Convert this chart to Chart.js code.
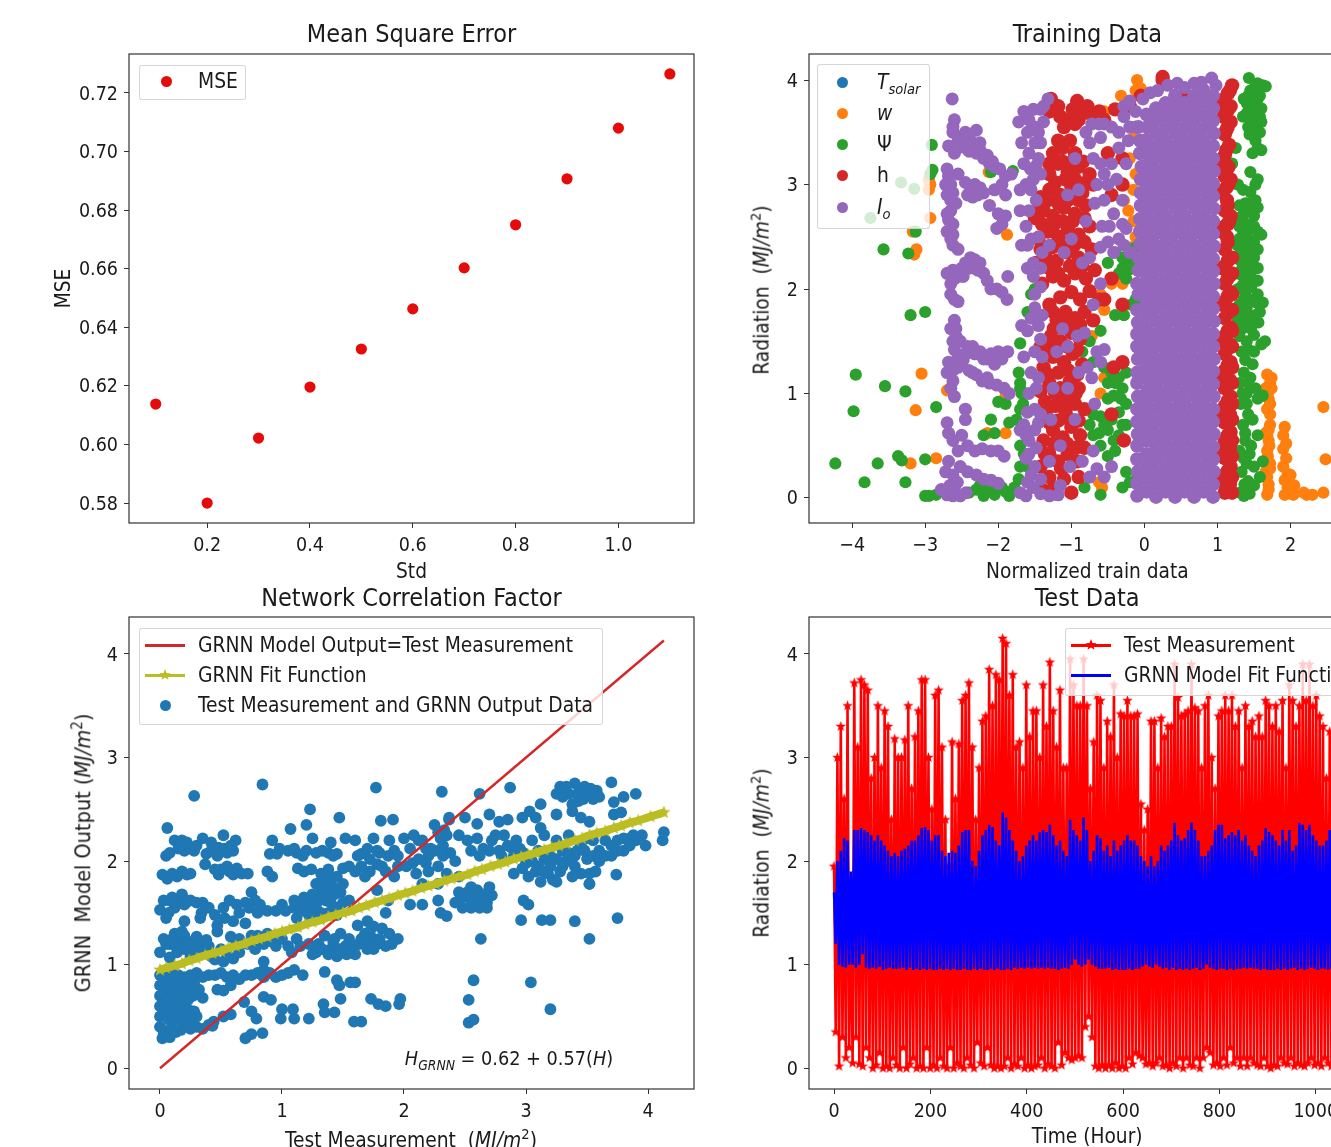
<!DOCTYPE html>
<html>
<head>
<meta charset="utf-8">
<title>GRNN charts</title>
<script src="https://cdn.jsdelivr.net/npm/chart.js@4/dist/chart.umd.min.js"></script>
<style>
html,body{margin:0;padding:0;background:#fff;overflow:hidden;width:1331px;height:1147px}
body{filter:blur(.55px)}
canvas{position:absolute}
.txt{position:absolute;white-space:nowrap;color:#1a1a1a;font-family:'DejaVu Sans Condensed','DejaVu Sans',sans-serif;font-size:20.8px;line-height:1}
.txt sub{font-size:.7em;line-height:0}
.txt sup{font-size:.7em;line-height:0}
.legend{position:absolute;box-sizing:border-box;background:rgba(255,255,255,.8);border:1px solid rgba(204,204,204,.8);border-radius:3px}
.dot{position:absolute;width:11px;height:11px;border-radius:50%}
.bar{position:absolute;height:2.5px}
</style>
</head>
<body>
<canvas id="mse" width="648" height="585" style="left:52px;top:0"></canvas>
<canvas id="train" width="633" height="585" style="left:740px;top:0"></canvas>
<canvas id="corr" width="648" height="567" style="left:60px;top:580px"></canvas>
<canvas id="test" width="633" height="570" style="left:740px;top:580px"></canvas>
<script>
// panel 1
const stdValues = [0.1,0.2,0.3,0.4,0.5,0.6,0.7,0.8,0.9,1.0,1.1];
const mseValues = [0.6138,0.58,0.6022,0.6196,0.6326,0.6463,0.6603,0.675,0.6907,0.708,0.7265];
const stdTicks = [0.2,0.4,0.6,0.8,1.0];
const mseTicks = [0.58,0.60,0.62,0.64,0.66,0.68,0.70,0.72];

// panel 2, flat x,y lists
const solarPts = [.2,.5,.4,1.2,.6,2.1,.3,3,.7,3.4,.5,1.7];
const windPts = [-3.2,.33,-2.85,.38,-3.13,.84,-3.05,1.19,-2.7,1.03,-1.9,.98,-2.15,.62,-1.9,.62,-3.15,2.33,-3.12,2.38,-3.17,2.55,-2.95,2.95,-2.93,3,-2.95,3.05,-2.93,2.68,-2.13,3.12,-1.88,2.52,
1.68,.03,1.7,.13,1.66,.25,1.72,.33,1.68,.45,1.7,.55,1.66,.62,1.72,.7,1.68,.85,1.7,.95,1.66,1.05,1.72,1.1,1.68,1.18,1.74,1.15,1.72,.8,1.65,1.0,1.7,.08,1.68,.2,1.72,.28,1.69,.4,1.71,.5,1.68,.6,1.7,.65,1.72,.9,1.7,1.02,1.74,1.05,
1.92,.03,1.96,.1,1.92,.17,1.96,.23,1.9,.3,1.94,.38,1.9,.47,1.94,.52,1.9,.6,1.92,.68,2,.04,2.05,.12,1.98,.15,2,.22,1.96,.05,2.04,.03,2.18,.05,2.22,.03,2.3,.03,2.45,.05,2.45,.87,2.48,.37,
-.1,4,-.12,3.9,-.05,3.92,-.32,3.85,-.55,3.7,-.38,3.72,-.15,3.45,-.2,3.25,-.12,3.1,-.15,2.95,-.28,2.85,-.22,2.75,-.15,2.65,-.12,2.5,-.18,2.4,-.45,2.05,-.6,1.95,-.55,1.8,-.3,2.05,-.62,.15,-.58,.1,-.1,.85,-.6,1,-.55,1.15,-.72,1.55];
const psiPts = [-4.23,.33,-3.95,1.18,-3.55,1.07,-3.98,.83,-3.65,.33,-3.83,.15,-3.37,.4,-3.32,.36,-3.27,1.02,-3.27,.15,-3,.37,-2.85,.87,-2.91,3.38,-2.9,3.14,-2.93,3.1,-3.33,3.02,-3.15,2.96,-3.75,2.68,-3.57,2.38,-3.23,2.34,-3.13,2.55,-3.2,1.75,-3,1.78,-3,.02,-2.95,.02,-2.85,.03,-2.1,3.12,-1.8,3.13,-1.9,.9,-2,.92,-2.1,.75,-1.85,.72,-2.2,.6,-2.05,.62,-1.7,.85,-1.75,.75,
-2.4,.05,-2.3,.08,-2.2,.02,-2.12,.09,-2.05,.03,-1.95,.1,-1.85,.02,-1.78,.1,-2.15,.13,-2.25,.12,-2.08,.14,-1.9,.06,-1.7,.3,-1.72,.18,-1.65,.42,-1.7,.5,-1.6,.3,-1.72,1.2,-1.7,1.1,-1.68,1,-1.66,.9,-1.7,1.05,-1.55,1.95,-1.6,1.78,-1.5,2,-1.7,1.48,
-.82,.1,-.6,.03,-.3,.1,-.2,.15,-.1,.2,-.25,.25,-.4,.45,-.6,.5,-.5,.65,-.35,.6,-.25,.7,-.45,.75,-.7,.6,-.6,.78,-.35,.82,-.25,.9,-.5,.95,-.4,1.1,-.3,1.05,-.45,1.2,-.55,1.25,-.25,1.2,-.7,1.3,-.85,1.4,-.75,1.5,-.6,1.6,-.4,1.75,-.3,1.85,-.28,1.75,-.12,1.9,-.18,1.85,-.5,2.25,-.4,2.35,-.3,2.2,-.25,2.1,-.35,2.15,-.2,2.25,-.12,2.4,-.08,2.3,-.5,.4,-.42,.55,-.55,.7,-.3,.7,-.32,.95,-.42,.98,-.5,1.1,-.35,1.15,-.27,2.28,-.22,2.18,-.3,2.3,-.7,.8,-.75,.7,-.62,.62,
1.31,.05,1.37,.13,1.44,.04,1.5,.12,1.33,.25,1.4,.33,1.5,.3,1.58,.2,1.62,.35,1.3,.45,1.38,.55,1.46,.5,1.55,.6,1.35,.7,1.42,.8,1.48,.75,1.32,.9,1.4,1,1.55,.95,1.62,.98,1.3,1.1,1.36,1.2,1.45,1.15,1.52,1.05,1.38,1.32,1.48,1.28,1.42,1.42,1.3,1.55,1.65,1.5,1.6,1.47,1.28,1.7,1.37,1.67,1.46,1.62,1.52,1.75,1.3,1.85,1.4,1.82,1.5,1.88,1.58,1.78,1.62,1.87,1.28,2,1.38,1.97,1.46,2.02,1.55,1.95,1.27,2.15,1.35,2.12,1.45,2.15,1.55,2.08,1.3,2.28,1.4,2.27,1.5,2.3,1.27,2.42,1.37,2.4,1.48,2.43,1.35,2.55,1.45,2.58,1.6,2.52,1.28,2.68,1.36,2.72,1.3,2.8,1.42,2.82,1.5,2.7,1.35,2.95,1.45,2.93,1.52,2.85,1.52,3,1.15,3.05,1.28,3,1.2,3.2,1.25,3.35,1.45,3.12,1.55,3.05,1.48,3.3,1.55,3.35,1.6,3.33,1.52,3.42,1.42,3.55,1.48,3.62,1.58,3.65,1.35,3.65,1.43,3.72,1.52,3.75,1.6,3.73,1.36,3.82,1.47,3.85,1.55,3.82,1.43,4.02,1.55,3.97,1.62,3.95,1.66,3.94,
1.36,.02,1.42,.16,1.36,.38,1.44,.42,1.38,.62,1.4,.9,1.34,1,1.42,1.1,1.34,1.62,1.42,1.72,1.34,1.76,1.44,1.9,1.34,2.03,1.4,2.06,1.34,2.2,1.44,2.35,1.32,2.36,1.42,2.48,1.3,2.48,1.4,2.62,1.5,2.45,1.5,2.6,1.45,3.62,1.5,3.7,1.4,3.68,1.58,3.5,1.52,3.95,1.45,3.9,1.58,3.85,
1.33,1.4,1.5,1.4,1.4,1.5,1.5,1.56,1.56,1.68,1.46,1.72,1.56,1.86,1.36,1.9,1.52,2.08,1.44,2.22,1.55,2.2,1.36,2.32,1.55,2.38,1.3,2.6,1.55,2.55,1.46,2.78,1.38,2.82,1.55,2.78,1.44,3.48,1.52,3.52,1.4,3.78,1.5,3.8,1.6,3.6,1.42,3.85,1.58,3.72,1.48,3.55];
const hPts = [1.1,.05,1.17,.13,1.1,.22,1.18,.3,1.1,.38,1.17,.47,1.1,.55,1.18,.63,1.1,.72,1.17,.8,1.1,.88,1.18,.97,1.1,1.05,1.17,1.13,1.1,1.22,1.18,1.3,1.1,1.38,1.17,1.47,1.1,1.55,1.18,1.63,1.1,1.72,1.17,1.8,1.1,1.88,1.18,1.97,1.1,2.05,1.17,2.13,1.1,2.22,1.18,2.3,1.1,2.38,1.13,2.5,1.1,2.6,1.16,2.65,1.1,2.75,1.13,2.85,1.07,2.92,1.15,3,1.1,3.08,1.15,3.17,1.1,3.28,1.16,3.38,1.1,3.48,1.14,3.55,1.08,3.65,1.15,3.72,1.1,3.82,1.17,3.9,.25,4.03,
1.14,.09,1.14,.26,1.14,.43,1.14,.6,1.14,.77,1.14,.93,1.14,1.1,1.14,1.27,1.14,1.43,1.14,1.6,1.14,1.77,1.14,1.93,1.14,2.1,1.14,2.27,1.14,2.45,1.14,2.62,1.14,2.8,1.12,2.97,1.12,3.13,1.12,3.33,1.12,3.52,1.12,3.7,1.14,3.87,
1.2,.05,1.2,.2,1.2,.4,1.2,.55,1.2,.75,1.2,.9,1.2,1.1,1.2,1.25,1.2,1.45,1.2,1.6,1.2,1.8,1.2,1.95,1.2,2.15,1.2,2.3,1.18,2.7,1.18,3.05,1.18,3.6,1.18,3.75,
1.06,.15,1.06,.45,1.06,.8,1.06,1.15,1.06,1.5,1.06,1.85,1.06,2.2,1.06,2.55,1.04,3.2,1.04,3.75,
-1.4,.08,-1.3,.2,-1.2,.04,-1.1,.18,-1,.05,-.9,.2,-1.42,.3,-1.3,.42,-1.18,.35,-1.05,.42,-.92,.35,-.82,.48,-1.38,.55,-1.25,.65,-1.12,.58,-1,.68,-.88,.6,-1.35,.8,-1.22,.88,-1.08,.82,-.95,.9,-.82,.85,-1.42,1.02,-1.3,1.1,-1.15,1.05,-1.02,1.12,-.9,1.05,-1.38,1.25,-1.25,1.35,-1.1,1.3,-.98,1.38,-.85,1.28,-1.42,1.45,-1.28,1.55,-1.15,1.5,-1,1.58,-.88,1.52,-1.2,1.7,-1.08,1.78,-.95,1.72,-.82,1.78,-.7,1.7,-1.3,1.85,-1.15,1.92,-1,1.97,-.88,1.9,-.75,1.98,-.62,1.9,-1.4,2.05,-1.25,2.12,-1.1,2.08,-.95,2.15,-.8,2.1,-.68,2.18,-1.48,2.25,-1.35,2.3,-1.2,2.27,-1.05,2.35,-.9,2.3,-.72,2.38,-1.45,2.48,-1.32,2.55,-1.18,2.5,-1.05,2.58,-.9,2.52,-.75,2.6,-1.5,2.68,-1.38,2.75,-1.25,2.7,-1.1,2.78,-.95,2.72,-.8,2.8,-1.42,2.88,-1.3,2.95,-1.15,2.9,-1,2.98,-.85,2.92,-.7,3,-1.3,3.1,-1.18,3.2,-1.05,3.12,-.9,3.17,-.75,3.1,-1.25,3.3,-1.12,3.35,-.95,3.3,-.5,3.3,-.3,3.25,-.3,3,-.45,2.9,
-1.24,.1,-1.14,.28,-1.36,.42,-1.24,.52,-1.06,.52,-.94,.48,-1.3,.72,-1.18,.74,-1.04,.76,-.9,.74,-1.36,.92,-1.22,1,-1.08,.94,-.94,1,-1.32,1.18,-1.18,1.2,-1.04,1.22,-.92,1.18,-1.32,1.45,-1.2,1.42,-1.06,1.45,-.92,1.42,-1.24,1.62,-1.1,1.65,-.98,1.65,-.88,1.66,-1.25,1.78,-1.14,1.72,-1.3,2.2,-1.18,2.15,-1.02,2.22,-.85,2.22,-1.42,2.38,-1.26,2.4,-1.12,2.45,-.96,2.42,-.82,2.45,-1.4,2.62,-1.25,2.6,-1.12,2.65,-.98,2.65,-.82,2.68,-1.44,2.8,-1.32,2.85,-1.18,2.82,-1.05,2.85,-.9,2.85,-1.22,3.02,-1.08,3.05,-.95,3.05,-.8,3.02,-1.3,3.2,-1.12,3.22,-.98,3.22,-.84,3.22,-1.18,3.42,-1.02,3.42,-1.15,3.65,-.98,3.72,-.85,3.68,-.7,3.65,-.55,3.62,
-1.3,3.7,-1.18,3.75,-1.05,3.62,-.92,3.8,-.78,3.75,-.9,3.62,-.62,3.7,-.4,3.72,-1.28,3.82,-.95,3.58,-1.1,3.55,-.2,3.75,-.05,3.85,.25,4,.55,3.85,-.45,2.1,-.55,1.9,-.3,1.85,-.45,.8,-.28,.55,-.42,1.25,-.3,1.3,1.2,3.95];
const ioPts = [-2.63,3.82,-2.6,3.62,-2.62,3.5,-2.55,3.42,-2.68,3.37,-2.6,3.3,-2.5,3.45,-2.45,3.5,-2.38,3.42,-2.3,3.52,-2.25,3.4,-2.4,3.32,-2.3,3.3,-2.2,3.25,-2.12,3.2,-2.05,3.17,-1.98,3.15,-1.9,3.08,-1.82,3.1,-2.7,3.15,-2.65,3,-2.7,2.9,-2.65,2.75,-2.7,2.55,-2.62,2.62,-2.68,2.66,-2.58,2.82,-2.55,3.1,-2.45,3.02,-2.38,2.95,-2.32,3,-2.28,2.9,-2.2,2.92,-2.12,2.8,-2.05,2.95,-1.95,3,-1.9,2.9,-2,2.72,-1.95,2.62,-2.02,2.58,-1.9,2.7,
-2.62,3.55,-2.5,3.36,-2.42,3.38,-2.35,3.38,-2.25,3.33,-2.15,3.28,-2.08,3.22,-2.68,3.08,-2.65,2.85,-2.62,2.92,-2.7,2.72,-2.72,3,-2.42,2.9,-2.35,2.88,-2.25,2.97,-2.62,2.52,-2.65,2.48,
-2.62,2.42,-2.55,2.38,-2.5,2.2,-2.62,2.18,-2.7,2.15,-2.65,2.05,-2.55,2.12,-2.45,2.25,-2.38,2.3,-2.32,2.28,-2.25,2.25,-2.28,2.18,-2.2,2.15,-2.15,2.08,-2.1,2,-2.02,2,-1.95,1.97,-1.88,1.9,-1.87,2.12,-2.65,1.95,-2.6,1.9,-2.55,1.88,-2.6,1.7,-2.65,1.62,-2.58,1.55,-2.52,1.5,-2.6,1.42,-2.68,1.3,-2.55,1.35,-2.48,1.32,-2.42,1.45,-2.32,1.38,-2.25,1.4,-2.15,1.33,-2.05,1.28,-1.95,1.33,-1.87,1.4,-2.7,1.2,-2.62,1.12,-2.55,1.25,-2.4,1.22,-2.3,1.18,-2.22,1.12,-2.12,1.1,-2.02,1.08,-1.92,1.05,-1.85,1.0,-2.65,1.05,-2.6,.97,-2.45,.85,-2.45,.75,
-2.4,2.2,-2.32,2.2,-2.6,2.1,-2.48,2.12,-2.58,1.62,-2.62,1.5,-2.55,1.28,-2.62,1.22,-2.45,1.38,-2.35,1.45,-2.2,1.33,-2.1,1.38,-2,1.4,-2.35,1.2,-2.15,1.15,
-2.7,.72,-2.68,.62,-2.62,.55,-2.55,.45,-2.5,.6,-2.42,.5,-2.32,.45,-2.22,.47,-2.1,.45,-2,.45,-1.92,.4,-2.68,.35,-2.72,.25,-2.62,.22,-2.52,.3,-2.42,.25,-2.3,.22,-2.2,.18,-2.1,.17,-2,.14,-2.78,.08,-2.7,.03,-2.6,.1,-2.52,.02,-2.44,.05,-2.66,.12,-2.56,.15,-2.62,.02,
-1.65,.7,-1.58,.55,-1.62,.6,-1.5,.65,-1.45,.72,-1.6,.82,-1.5,.85,-1.42,.8,-1.62,.38,-1.5,.3,-1.62,.02,-1.52,.1,-1.42,.04,-1.3,.02,-1.18,.03,-1.65,1.35,-1.68,1.65,-1.6,1.6,-1.5,1.4,-1.4,1.35,-1.45,1.65,-1.5,1.82,-1.4,1.75,-1.52,2.25,-1.6,2.42,-1.45,2.5,-1.68,2.42,-1.55,2.48,-1.62,2.6,-1.4,2.35,-1.3,2.42,-1.62,3,-1.52,3.05,-1.7,2.95,-1.65,3.2,-1.58,3.3,-1.68,3.4,-1.72,3.6,-1.6,3.5,-1.65,3.7,-1.5,3.55,-1.42,3.4,-1.38,3.6,-1.32,3.82,-1.38,3.75,-1.52,3.72,-1.45,3.25,-1.42,3.1,
-1.58,1,-1.48,1.05,-1.55,1.2,-1.45,1.15,-1.55,1.72,-1.42,1.52,-1.5,1.95,-1.42,2.02,-1.52,2.12,-1.42,2.2,-1.6,2.2,-1.58,2.75,-1.48,2.85,-1.55,2.95,-1.7,2.75,-1.48,3.18,-1.56,3.15,-1.5,3.4,-1.45,3.5,-1.58,3.62,-1.42,3.72,-1.6,.15,-1.7,.05,-1.55,.22,-1.42,.18,-1.7,.65,-1.58,.42,-1.48,.48,
-1.2,1.4,-1.05,1.05,-.95,.75,-1.15,.5,-1.3,.35,-.85,.35,-.7,.45,-.68,.9,-.72,1.15,-.9,1.2,-1.05,1.45,-.92,1.55,-1.1,2.35,-1,2.48,-.8,2.65,-.68,2.82,-.58,2.6,-.6,2.4,-.5,2.45,-.9,2.95,-.75,2.3,-.85,2.25,-1.05,2.9,-.95,3.25,-.75,3.4,-.6,3.2,-.55,3.1,-.8,3.5,-.6,3.45,-.45,3.55,-.35,3.5,-.5,3,-.42,2.72,-.3,2.62,-.28,2.42,-.35,2.48,-.42,2.35,-.2,2.35,-.25,2.58,
-1.28,.75,-1.15,.12,-1.02,.3,-.75,.2,-.65,.28,-.55,.2,-.45,.3,-1.25,1.05,-.78,1.25,-.65,1.4,-.55,1.42,-.6,1.3,-1.12,1.62,-.82,1.58,-.7,1.85,-.6,2.05,-.48,2.6,-.55,2.85,-.65,3,-.45,3.2,-.38,3.05,-.3,2.85,-.7,3.25,-.62,3.58,-.72,3.58,-.35,3.35,-.25,3.2,-.22,3.42,-.12,3.55,
-.55,3.58,-.28,3.65,-.2,3.55,-.28,3.75,-.2,3.8,-.12,3.7,-.02,3.82,.08,3.88,.18,3.9,.32,3.95,.45,3.97,.55,3.93,.68,3.97,.78,3.98,.92,4.02,.98,3.95];
// solid part of the purple cloud
const ioCorePts = [-.1,.02,-.1,.14,-.09,.25,-.1,.37,-.1,.5,-.09,.61,-.1,.73,-.1,.85,-.09,.97,-.1,1.1,-.1,1.2,-.09,1.33,-.1,1.45,-.1,1.57,-.09,1.68,-.1,1.8,-.08,1.95,-.1,2.05,-.08,2.18,-.08,2.3,-.06,2.43,-.06,2.55,-.06,2.67,-.05,2.8,-.05,2.92,-.05,3.05,-.04,3.17,-.06,3.3,-.06,3.42,-.08,3.55,
.03,.06,.03,.18,.04,.3,.03,.42,.03,.55,.04,.67,.03,.79,.03,.91,.04,1.03,.03,1.15,.03,1.27,.04,1.39,.03,1.51,.03,1.63,.04,1.75,.03,1.87,.03,1.99,.04,2.11,.03,2.23,.03,2.35,.04,2.47,.03,2.59,.03,2.71,.04,2.83,.03,2.95,.03,3.07,.04,3.19,.03,3.31,.03,3.43,.04,3.55,.03,3.67,
.16,.01,.16,.13,.17,.25,.16,.37,.16,.49,.17,.61,.16,.73,.16,.85,.17,.97,.16,1.09,.16,1.21,.17,1.33,.16,1.45,.16,1.57,.17,1.69,.16,1.81,.16,1.93,.17,2.05,.16,2.17,.16,2.29,.17,2.41,.16,2.53,.16,2.65,.17,2.77,.16,2.89,.16,3.01,.17,3.13,.16,3.25,.16,3.37,.17,3.49,.16,3.61,.16,3.73,
.29,.06,.29,.18,.3,.3,.29,.42,.29,.54,.3,.66,.29,.78,.29,.9,.3,1.02,.29,1.14,.29,1.26,.3,1.38,.29,1.5,.29,1.62,.3,1.74,.29,1.86,.29,1.98,.3,2.1,.29,2.22,.29,2.34,.3,2.46,.29,2.58,.29,2.7,.3,2.82,.29,2.94,.29,3.06,.3,3.18,.29,3.3,.29,3.42,.3,3.54,.29,3.66,.29,3.78,
.42,.01,.42,.13,.43,.25,.42,.37,.42,.49,.43,.61,.42,.73,.42,.85,.43,.97,.42,1.09,.42,1.21,.43,1.33,.42,1.45,.42,1.57,.43,1.69,.42,1.81,.42,1.93,.43,2.05,.42,2.17,.42,2.29,.43,2.41,.42,2.53,.42,2.65,.43,2.77,.42,2.89,.42,3.01,.43,3.13,.42,3.25,.42,3.37,.43,3.49,.42,3.61,.42,3.73,.42,3.85,
.55,.06,.55,.18,.56,.3,.55,.42,.55,.54,.56,.66,.55,.78,.55,.9,.56,1.02,.55,1.14,.55,1.26,.56,1.38,.55,1.5,.55,1.62,.56,1.74,.55,1.86,.55,1.98,.56,2.1,.55,2.22,.55,2.34,.56,2.46,.55,2.58,.55,2.7,.56,2.82,.55,2.94,.55,3.06,.56,3.18,.55,3.3,.55,3.42,.56,3.54,.55,3.66,.55,3.78,
.68,.01,.68,.13,.69,.25,.68,.37,.68,.49,.69,.61,.68,.73,.68,.85,.69,.97,.68,1.09,.68,1.21,.69,1.33,.68,1.45,.68,1.57,.69,1.69,.68,1.81,.68,1.93,.69,2.05,.68,2.17,.68,2.29,.69,2.41,.68,2.53,.68,2.65,.69,2.77,.68,2.89,.68,3.01,.69,3.13,.68,3.25,.68,3.37,.69,3.49,.68,3.61,.68,3.73,.68,3.85,
.81,.06,.81,.18,.82,.3,.81,.42,.81,.54,.82,.66,.81,.78,.81,.9,.82,1.02,.81,1.14,.81,1.26,.82,1.38,.81,1.5,.81,1.62,.82,1.74,.81,1.86,.81,1.98,.82,2.1,.81,2.22,.81,2.34,.82,2.46,.81,2.58,.81,2.7,.82,2.82,.81,2.94,.81,3.06,.82,3.18,.81,3.3,.81,3.42,.82,3.54,.81,3.66,.81,3.78,.81,3.9,
.94,.01,.94,.13,.95,.25,.94,.37,.94,.49,.95,.61,.94,.73,.94,.85,.95,.97,.94,1.09,.94,1.21,.95,1.33,.94,1.45,.94,1.57,.95,1.69,.94,1.81,.94,1.93,.95,2.05,.94,2.17,.94,2.29,.95,2.41,.94,2.53,.94,2.65,.95,2.77,.94,2.89,.94,3.01,.95,3.13,.94,3.25,.94,3.37,.95,3.49,.94,3.61,.94,3.73,.94,3.85];
const trainXTicks = [-4,-3,-2,-1,0,1,2,3];
const radTicks = [0,1,2,3,4];

// panel 3, flat x,y list
const outputPts = [.02,.29,.03,.33,0,.4,.05,.36,.08,.3,.1,.38,.13,.35,.17,.37,.2,.4,.25,.38,.3,.4,.35,.38,.4,.42,.44,.45,.43,.41,
0,.5,.03,.52,.07,.47,.1,.5,.14,.47,.18,.5,.22,.46,.27,.46,.3,.5,0,.6,.04,.62,.08,.58,.12,.62,.16,.57,.2,.6,.24,.56,.28,.55,0,.7,.03,.72,.07,.68,.11,.72,.15,.68,.19,.72,.23,.66,.27,.7,.35,.68,0,.8,.04,.82,.08,.78,.12,.83,.16,.78,.2,.82,.24,.78,.28,.82,.32,.76,
0,.9,.05,.9,.1,.92,.15,.9,.2,.88,.25,.9,.3,.92,.35,.88,.4,.9,.45,.9,.5,.92,.55,.88,.6,.9,.65,.86,.7,.9,.75,.9,.8,.92,.85,.88,.9,.92,.95,.88,1,.9,1.05,.92,1.1,.95,1.17,.9,1.35,.93,.47,.76,.52,.75,.58,.8,.52,.5,.58,.52,
.69,.64,.75,.55,.79,.48,.7,.29,.75,.33,.84,.34,.85,.69,.91,.66,.99,.48,1,.57,1.09,.57,1.1,.48,1.22,.48,1.34,.62,1.35,.54,1.43,.54,1.48,.67,1.59,.45,1.65,.45,1.45,.85,1.47,.8,1.56,.83,1.6,.83,1.73,.67,1.79,.62,1.85,.6,1.96,.62,1.97,.67,2.53,.66,2.57,.85,2.53,.44,2.57,.47,3.04,.83,3.2,.57,
0,1.12,.03,1.25,.08,1.2,.12,1.3,.16,1.22,.2,1.28,.14,1.12,.2,1.15,.26,1.22,.3,1.27,.34,1.2,.38,1.24,.4,1.18,.45,1.05,.52,1.03,.6,1.06,.5,1.15,.58,1.27,.47,1.32,.65,1.25,.78,1.15,.85,1.2,.8,1.28,.88,1.3,.95,1.18,1.05,1.18,1.12,1.25,1.22,1.2,1.25,1.1,1.3,1.2,1.35,1.28,1.4,1.15,1.45,1.08,1.5,1.12,1.55,1.25,1.52,1.18,1.6,1.1,1.63,1.2,1.68,1.3,1.7,1.15,1.75,1.25,1.78,1.2,1.82,1.35,1.88,1.3,1.9,1.2,1.95,1.25,1.85,1.18,1.42,1.22,1.48,1.3,1.62,1.38,1.7,1.42,1.75,1.37,.85,1.03,.85,.95,
.05,1.2,.1,1.25,.13,1.18,.18,1.32,.23,1.2,.28,1.15,.32,1.22,.36,1.14,.42,1.08,.25,1.08,.08,1.07,.55,1.1,.65,1.12,.62,1.18,.72,1.2,.75,1.28,.92,1.22,1,1.25,1.08,1.12,1.15,1.18,1.28,1.12,1.33,1.15,1.38,1.1,1.43,1.25,1.47,1.15,1.53,1.1,1.58,1.18,1.65,1.25,1.7,1.22,1.72,1.32,1.8,1.25,1.75,1.15,
0,1.53,.03,1.62,.07,1.5,.1,1.65,.15,1.6,.18,1.68,.2,1.58,.25,1.62,.3,1.6,.34,1.5,.35,1.6,.2,1.42,.05,1.45,.33,1.45,.47,1.38,.53,1.45,.52,1.55,.57,1.62,.63,1.58,.6,1.42,.7,1.4,.7,1.6,.73,1.55,.75,1.7,.78,1.62,.82,1.58,.88,1.52,.95,1.52,1,1.58,1.03,1.52,1.1,1.55,1.12,1.45,1.16,1.52,1.2,1.6,1.25,1.5,1.18,1.65,1.28,1.58,1.32,1.7,1.36,1.62,1.38,1.5,1.42,1.75,1.45,1.55,1.48,1.7,1.5,1.78,1.55,1.62,1.3,1.78,1.4,1.82,1.33,1.85,1.78,1.72,1.85,1.5,1.87,1.62,2.05,1.58,2.15,1.58,2.28,1.62,2.3,1.5,2.35,1.47,2.45,1.7,2.48,1.55,2.52,1.7,2.55,1.55,2.6,1.62,2.62,1.55,2.68,1.6,2.72,1.67,2.7,1.75,2.6,1.72,
1.15,1.6,1.22,1.55,1.28,1.65,1.32,1.5,1.35,1.75,1.4,1.6,1.43,1.68,1.45,1.48,1.5,1.6,1.38,1.72,1.25,1.68,1.22,1.48,1.1,1.62,.8,1.5,.65,1.5,.4,1.55,.45,1.48,.12,1.55,.08,1.62,.22,1.62,2.48,1.65,2.55,1.62,2.58,1.7,2.65,1.68,2.68,1.55,2.55,1.75,2.42,1.6,
.02,1.87,.06,1.83,.1,1.88,.14,1.85,.18,1.9,.22,1.87,.25,1.88,.37,1.97,.48,1.87,.5,1.92,.57,1.9,.63,1.93,.67,1.88,.72,1.88,.88,1.9,.92,1.85,1.13,1.93,1.18,1.9,1.24,1.92,1.28,1.78,1.32,1.88,1.38,1.92,1.45,1.85,1.5,1.93,1.6,1.9,1.65,1.95,1.72,1.9,1.78,1.97,1.85,1.9,1.92,1.85,1.95,1.95,2.1,1.88,2.15,1.78,2.2,1.9,2.28,1.78,2.35,1.88,2.45,1.85,2.9,1.88,2.97,1.93,3.02,1.85,3.08,1.9,3.12,1.8,3.18,1.88,3.22,1.82,3.28,1.9,3.33,2,3.45,1.88,3.52,1.88,3.57,1.9,3.74,1.87,3.52,1.78,
.05,2.05,.08,2.08,.12,2.2,.18,2.2,.2,2.1,.25,2.12,.3,2.15,.35,2.22,.38,2.07,.42,2.1,.48,2.13,.52,2.25,.55,2.08,.6,2.1,.62,2.2,.9,2.07,.92,2.2,.96,2.07,1.05,2.1,1.12,2.08,1.2,2.1,1.25,2.22,1.33,2.1,1.4,2.18,1.45,2.07,1.52,2.22,1.6,2.2,1.65,2.07,1.7,2.12,1.75,2.22,1.8,2.08,1.88,2.2,1.92,2.1,2,2.22,2.05,2.12,2.08,2.25,2.15,2.2,2.2,2.05,2.25,2.1,2.3,2.22,2.38,2.08,2.33,2.3,2.37,2.4,2.45,2.25,2.52,2.2,2.55,2.1,2.6,2.22,2.65,2.12,2.72,2.2,2.78,2.1,2.82,2.25,2.88,2.13,2.92,2.2,2.98,2.08,3.05,2.2,3.1,2.1,3.15,2.25,3.2,2.05,3.25,2.2,3.3,2.1,3.35,2.25,3.4,2.05,3.45,2.15,3.5,2.02,3.55,2.2,3.6,2.1,3.65,2.2,3.7,2.05,3.75,2.2,3.8,2.1,3.85,2.22,3.9,2.2,3.95,2.25,4.12,2.2,4.13,2.28,3.98,2.15,
1.55,1.95,1.62,2.05,1.68,1.85,1.72,2.02,1.78,2.1,1.82,1.95,1.87,2.05,1.95,2.05,2.02,1.95,2.07,1.98,2.12,2.02,2.18,1.98,2.22,2.12,2.28,1.95,2.32,2.05,2.42,2,2.12,2.2,2.18,2.12,2.28,2.28,2.32,2.15,2.62,2.05,2.7,2.1,2.75,2.25,2.8,2.05,2.85,2.15,2.9,2.05,2.95,2.12,3,1.98,3.05,2,3.1,1.95,3.15,2.02,3.2,1.95,3.25,2.02,3.3,1.95,3.35,2.08,3.4,1.95,3.42,2.1,3.48,2.1,3.5,2.22,3.55,2.05,3.6,2,3.65,2.05,3.7,2.15,3.75,2.1,3.8,2.22,3.85,2.15,3.88,2.25,3.15,1.9,3.25,1.8,3.38,1.85,
.15,2.12,.22,2.18,.28,2.1,.42,2.18,.47,2.05,.53,2.12,.58,2.15,.45,1.92,.55,1.95,.6,1.87,.98,2.12,1.1,2.12,1.17,2.05,1.28,2.08,1.38,2.08,1.42,2.05,
.06,2.32,.28,2.63,.84,2.74,1.77,2.71,2.31,2.67,2.62,2.65,2.87,2.71,3.7,2.76,1.23,2.5,1.47,2.42,1.81,2.39,1.91,2.4,1.07,2.31,1.2,2.35,2.25,2.35,2.37,2.42,2.5,2.42,2.6,2.36,2.7,2.45,2.78,2.38,2.85,2.4,2.97,2.42,3.03,2.48,3.08,2.42,3.12,2.55,3.12,2.32,3.25,2.45,3.38,2.48,3.45,2.42,3.52,2.38,3.72,2.45,3.78,2.47,3.72,2.57,3.8,2.62,3.9,2.65,3.25,2.65,3.3,2.7,3.35,2.65,3.4,2.75,3.45,2.68,3.5,2.65,3.55,2.6,3.58,2.68,3.43,2.58,3.38,2.55,3.28,2.72,3.3,2.62,3.33,2.72,3.42,2.65,3.48,2.72,3.53,2.7,3.47,2.6,3.6,2.62,
3.52,1.25,3.75,1.45,3.4,1.42,3.2,1.43,3.13,1.43,2.96,1.43,2.63,1.25,3.52,1.78,2.98,1.62,3.02,1.58,2.35,2.25];
const fitMeasured = [0,.05,.12,.18,.24,.3,.37,.43,.5,.56,.62,.69,.75,.81,.88,.94,1,1.06,1.13,1.19,1.25,1.32,1.38,1.44,1.5,1.57,1.63,1.69,1.76,1.82,1.88,1.95,2.01,2.07,2.14,2.2,2.26,2.33,2.39,2.45,2.52,2.58,2.64,2.71,2.77,2.83,2.9,2.96,3.02,3.08,3.15,3.21,3.27,3.33,3.4,3.46,3.52,3.58,3.65,3.72,3.78,3.85,3.92,4.02,4.13];
const fitOutput = [.95,.97,.99,1.01,1.04,1.06,1.09,1.11,1.13,1.16,1.18,1.2,1.23,1.25,1.27,1.3,1.32,1.34,1.36,1.39,1.41,1.43,1.46,1.48,1.5,1.52,1.55,1.57,1.6,1.62,1.64,1.67,1.69,1.71,1.74,1.76,1.78,1.81,1.83,1.85,1.87,1.9,1.92,1.95,1.97,1.99,2.02,2.04,2.06,2.08,2.11,2.13,2.15,2.17,2.2,2.22,2.25,2.27,2.29,2.32,2.34,2.37,2.39,2.43,2.47];
const idealLine = [0,4.13];
const corrXTicks = [0,1,2,3,4];

// panel 4, one value per sample, hourStep apart
const hourStep = 3.5;
const testValues = [1.95,.35,3,.02,3.3,.3,2.6,.1,3.5,.2,
1.7,.05,3.72,.3,3.1,.04,3.75,.02,3.7,.2,
3.65,.1,2.8,0,3,.03,3.5,.15,2.9,0,
3.45,.02,3.3,0,2.4,.1,3.18,.03,3,0,
3,.2,3.17,0,3.5,.04,2.7,.1,3.2,0,
3.45,.02,3.75,0,3.75,.2,3,0,2.5,.03,
3.6,0,3.65,.1,3.1,.02,2.4,0,1.95,.2,
3.15,0,2.6,.05,3.13,.02,3.55,0,3.6,.1,
3.72,.03,3.1,0,2.4,.25,2.9,.05,3.35,.02,
3.4,.2,3.85,.03,3.5,0,3.8,.02,3.75,0,
4.15,.02,4.1,.1,3.6,0,3.8,.04,3.1,.02,
3.15,.1,2.9,0,3.7,.03,3.2,0,3.45,.02,
3.45,.03,3,.1,3.7,0,3.3,.04,3.92,.02,
3.45,0,3.1,.25,3.65,.03,2.9,.15,2.9,.1,
3.95,.08,3.7,.1,3.5,.12,3.5,.1,3.95,.4,
3.5,.5,2.7,.3,3.15,.02,3.6,0,3.55,.03,
2.9,0,3.35,.03,3.2,0,3.7,.05,3,0,
3.42,.02,3.4,0,3.55,.1,3.4,.04,3.4,.15,
3.42,.12,2.55,.1,2.3,.04,2.5,.05,3.35,.02,
3.35,.05,2.9,.1,3.38,.02,3.2,.03,3.3,0,
3.3,.05,3.9,.02,3.58,.1,3.4,0,3.42,.1,
3.45,.03,3.9,.02,3.48,.1,3.45,0,2.9,.1,
3.5,.2,3.6,.15,3,.03,2.7,.05,3.4,.02,
3.45,.1,3.6,.03,3.45,.2,3.6,.05,3.3,.1,
3.45,.02,2.9,.1,3.5,.02,3.3,.1,3.35,.05,
3.2,.03,3.4,.02,3.2,.1,3.55,.02,3.5,0,
3.3,.03,3.5,.02,3.25,.1,3.55,.05,2.9,.04,
3.7,.1,3.55,.02,3.3,.05,3.5,.03,3.9,.02,
3.55,.05,3.9,.1,3.5,.03,3.6,.05,3.4,.02,
3.3,.1,2.8,.05,3.25,.02,2.8,.1,3,.03,
3.1,.05,3.3,.02,2.9,.1,3.2,0,2.7,.1];
const fitValues = [1.7,1.2,2,1,2.1,.98,2.22,.97,2.2,1,
1.9,1,2.3,.97,2.3,1,2.32,1.1,2.3,.97,
2.28,.96,2.25,.97,2.2,.96,2.25,.98,2.2,.95,
2.15,.96,2.1,.97,2.05,.96,2.08,.96,2.05,.96,
2.1,.97,2.12,.95,2.15,.97,2.2,.95,2.2,.96,
2.25,.95,2.32,.96,2.33,.95,2.3,.96,2.2,.95,
2.25,.95,2.25,.96,2.1,.95,2.05,.96,2.08,.95,
2.1,.96,2.08,.95,2.15,.95,2.28,.96,2.3,.95,
2.3,.95,2,.96,1.95,.95,2.1,.96,2.25,.95,
2.3,.95,2.35,.96,2.33,.95,2.2,.96,2.15,.95,
2.47,.95,2.42,.96,2.3,.95,2.2,.97,2.1,.96,
2,.97,2.05,.96,2.15,.97,2.2,.96,2.25,.97,
2.2,.96,2.28,.97,2.3,.96,2.28,.97,2.35,.96,
2.25,.96,2.15,.95,2.2,.96,2.1,.97,2.05,.96,
2.4,1,2.3,1.05,2.25,1,2.2,.98,2.42,1,
2.3,1.05,2,1,2.1,.98,2.25,.96,2.22,.96,
2.1,.96,2.15,.97,2.05,.95,2.2,.96,2.1,.95,
2.15,.95,2.2,.95,2.25,.96,2.2,.95,2.2,.96,
2.15,.96,2.05,.98,2,1,1.95,.98,2.05,.97,
1.95,1,2,.98,2.15,.96,2.1,.97,2.15,.95,
2.2,.97,2.37,.95,2.25,.96,2.2,.95,2.22,.96,
2.3,.95,2.37,.96,2.3,.97,2.2,.95,2.05,.96,
2.05,1,2.1,.97,2.15,.96,2.3,.95,2.35,.96,
2.35,.96,2.22,.95,2.25,.96,2.28,.95,2.25,.96,
2.3,.96,2.2,.97,2.25,.96,2.15,.97,2.1,.96,
2.05,.96,2.15,.95,2.2,.96,2.32,.95,2.28,.95,
2.25,.95,2.2,.96,2.15,.95,2.3,.96,2.2,.95,
2.3,.96,2.1,.97,2.15,.95,2.37,.96,2.35,.95,
2.3,.96,2.35,.97,2.25,.96,2.2,.95,2.15,.96,
2.15,.96,2.2,.95,2.3,.96,2.32,.95,2.25,.96,
2.2,.96,2.25,.95,2.15,.96,2.2,.95,2.1,.96];
const hourTicks = [0,200,400,600,800,1000];

const FONT = "'DejaVu Sans Condensed','DejaVu Sans',sans-serif";
const INK = '#1a1a1a';
Chart.defaults.font.family = FONT;
Chart.defaults.color = INK;
Chart.defaults.animation = false;

function pairs(flat){
    const out = [];
    for(let i = 0; i < flat.length; i += 2) out.push({x: flat[i], y: flat[i+1]});
    return out;
}

// filled five point star, the built in 'star' style is only strokes
function starImage(color, r){
    const c = document.createElement('canvas');
    c.width = c.height = Math.ceil(r*2+2);
    const ctx = c.getContext('2d');
    ctx.translate(c.width/2, c.height/2);
    ctx.beginPath();
    for(let i = 0; i < 10; i++){
        const rad = i%2 ? r*0.42 : r;
        const a = -Math.PI/2 + i*Math.PI/5;
        ctx.lineTo(rad*Math.cos(a), rad*Math.sin(a));
    }
    ctx.closePath();
    ctx.fillStyle = color;
    ctx.fill();
    return c;
}

const framePlugin = {
    id: 'frame',
    afterDraw(chart){
        const a = chart.chartArea, ctx = chart.ctx;
        ctx.save();
        ctx.strokeStyle = '#333';
        ctx.lineWidth = 1.2;
        ctx.strokeRect(a.left, a.top, a.right-a.left, a.bottom-a.top);
        ctx.restore();
    }
};

function axis(o){
    const s = {
        type: 'linear',
        min: o.min,
        max: o.max,
        afterBuildTicks: sc => { sc.ticks = o.ticks.map(v => ({value: v})); },
        afterFit: sc => {
            if(o.width) sc.width = o.width;
            if(o.height) sc.height = o.height;
            sc.paddingLeft = sc.paddingRight = sc.paddingTop = sc.paddingBottom = 0;
        },
        grid: {drawOnChartArea: false, drawTicks: true, tickLength: 5, color: '#333'},
        border: {display: false},
        ticks: {
            font: {size: 19.5}, padding: 6, autoSkip: false, maxRotation: 0, color: INK,
            labelOffset: o.width ? 1.5 : 0,
            callback: v => o.fmt ? o.fmt(v) : String(v).replace('-', '\u2212')
        }
    };
    if(o.title) s.title = {display: true, text: o.title, font: {size: 20.7}, color: INK, padding: 0};
    return s;
}

function makeChart(id, title, pad, datasets, x, y){
    return new Chart(document.getElementById(id), {
        type: 'scatter',
        data: {datasets},
        options: {
            responsive: false,
            layout: {padding: {right: 6}},
            plugins: {
                legend: {display: false},
                tooltip: {enabled: false},
                title: {display: true, fullSize: false, text: title, color: INK, font: {size: 25, weight: 'normal', lineHeight: 1.2}, padding: pad}
            },
            scales: {x: axis(x), y: axis(y)}
        },
        plugins: [framePlugin]
    });
}

// order: chart.js paints the lowest order last, so it ends up on top
function dots(data, color, order, radius){
    return {data, order, showLine: false, pointRadius: radius || 6.1, pointBackgroundColor: color, pointBorderWidth: 0};
}

makeChart('mse', 'Mean Square Error', {top: 20, bottom: 4},
    [dots(stdValues.map((v,i) => ({x: v, y: mseValues[i]})), '#e50b0b', 1, 5.6)],
    {min: .048, max: 1.147, ticks: stdTicks, fmt: v => v.toFixed(1), title: 'Std', height: 62},
    {min: .5732, max: .7333, ticks: mseTicks, fmt: v => v.toFixed(2), title: 'MSE', width: 77});

makeChart('train', 'Training Data', {top: 20, bottom: 4},
    [dots(pairs(solarPts), '#1f77b4', 6), dots(pairs(windPts), '#ff7f0e', 5), dots(pairs(psiPts), '#2ca02c', 4), dots(pairs(hPts), '#d62728', 3, 7.2), dots(pairs(ioCorePts), '#9467bd', 2, 7), dots(pairs(ioPts), '#9467bd', 1, 6.5)],
    {min: -4.59, max: 3.03, ticks: trainXTicks, title: 'Normalized train data', height: 62},
    {min: -.24, max: 4.25, ticks: radTicks, width: 69});

makeChart('corr', 'Network Correlation Factor', {top: 4, bottom: 3},
    [dots(pairs(outputPts), '#1f77b4', 3, 5.9),
     {data: idealLine.map(v => ({x: v, y: v})), order: 2, showLine: true, pointRadius: 0, borderColor: '#d62728', borderWidth: 2.4},
     {data: fitMeasured.map((v,i) => ({x: v, y: fitOutput[i]})), order: 1, showLine: true, borderColor: '#bcbd22', borderWidth: 8, pointStyle: starImage('#bcbd22', 7), pointRadius: 6}],
    {min: -.254, max: 4.377, ticks: corrXTicks, height: 58},
    {min: -.2, max: 4.357, ticks: radTicks, width: 69});

makeChart('test', 'Test Data', {top: 4, bottom: 3},
    [{data: testValues.map((v,i) => ({x: i*hourStep, y: v})), order: 2, showLine: true, borderColor: '#ff0000', borderWidth: 2.6, pointStyle: starImage('#ff0000', 5.5), pointRadius: 5},
     {data: fitValues.map((v,i) => ({x: i*hourStep, y: v})), order: 1, showLine: true, borderColor: '#0000ff', borderWidth: 2.6, pointRadius: 0}],
    {min: -52, max: 1103, ticks: hourTicks, title: 'Time (Hour)', height: 61},
    {min: -.2, max: 4.357, ticks: radTicks, width: 69});

function addText(html, x, y, rotate, size){
    const d = document.createElement('div');
    d.className = 'txt';
    d.innerHTML = html;
    d.style.left = x + 'px';
    d.style.top = y + 'px';
    if(size) d.style.fontSize = size + 'px';
    d.style.transform = 'translate(-50%,-50%)' + (rotate ? ' rotate(-90deg)' : '');
    document.body.appendChild(d);
}
const RAD_UNIT = '(<i>MJ/m</i><sup>2</sup>)';
addText('Radiation&nbsp; ' + RAD_UNIT, 762, 290, true);
addText('Radiation&nbsp; ' + RAD_UNIT, 762, 853, true);
addText('GRNN&nbsp; Model Output ' + RAD_UNIT, 83, 853, true, 21.5);
addText('Test Measurement&nbsp; ' + RAD_UNIT, 411, 1139.5);
addText('<i>H<sub>GRNN</sub></i> = 0.62 + 0.57(<i>H</i>)', 509, 1059, false, 19.7);

// legends are html because of the math text, rows: [label, marker]
function addLegend(left, top, width, height, rows){
    const box = document.createElement('div');
    box.className = 'legend';
    box.style.cssText = `left:${left}px;top:${top}px;width:${width}px;height:${height}px`;
    document.body.appendChild(box);
    rows.forEach(r => {
        const t = document.createElement('div');
        t.className = 'txt';
        t.innerHTML = r.label;
        t.style.left = (r.tx - left - 1) + 'px';
        t.style.top = (r.y - top - 1) + 'px';
        t.style.transform = 'translateY(-50%)';
        box.appendChild(t);
        if(r.line){
            const b = document.createElement('div');
            b.className = 'bar';
            b.style.cssText = `left:${r.lx-left-1}px;top:${r.y-top-2}px;width:${r.lw}px;background:${r.line}`;
            box.appendChild(b);
        }
        if(r.star){
            const s = starImage(r.star, 6);
            s.style.left = (r.lx + r.lw/2 - s.width/2 - left - 1) + 'px';
            s.style.top = (r.y - s.height/2 - top - 1) + 'px';
            box.appendChild(s);
        }
        if(r.dot){
            const p = document.createElement('div');
            p.className = 'dot';
            p.style.cssText = `left:${r.dx-5.5-left-1}px;top:${r.y-5.5-top-1}px;background:${r.dot}`;
            box.appendChild(p);
        }
    });
}

addLegend(139, 65, 107, 35, [{label: 'MSE', tx: 198, y: 81, dx: 166, dot: '#e50b0b'}]);
addLegend(817, 64, 113, 165, [
    {label: '<i>T<sub>solar</sub></i>', tx: 877, y: 82, dx: 842, dot: '#1f77b4'},
    {label: '<i>w</i>', tx: 877, y: 113, dx: 842, dot: '#ff7f0e'},
    {label: '\u03A8', tx: 877, y: 144, dx: 842, dot: '#2ca02c'},
    {label: 'h', tx: 877, y: 175, dx: 842, dot: '#d62728'},
    {label: '<i>I<sub>o</sub></i>', tx: 877, y: 207, dx: 842, dot: '#9467bd'}
]);
addLegend(139, 628, 464, 97, [
    {label: 'GRNN Model Output=Test Measurement', tx: 198, y: 645, lx: 145, lw: 40, line: '#d62728'},
    {label: 'GRNN Fit Function', tx: 198, y: 675, lx: 145, lw: 40, line: '#bcbd22', star: '#bcbd22'},
    {label: 'Test Measurement and GRNN Output Data', tx: 198, y: 705, dx: 165, dot: '#1f77b4'}
]);
addLegend(1065, 628, 320, 68, [
    {label: 'Test Measurement', tx: 1124, y: 645, lx: 1071, lw: 40, line: '#ff0000', star: '#ff0000'},
    {label: 'GRNN Model Fit Function', tx: 1124, y: 675, lx: 1071, lw: 40, line: '#0000ff'}
]);
</script>
</body>
</html>
